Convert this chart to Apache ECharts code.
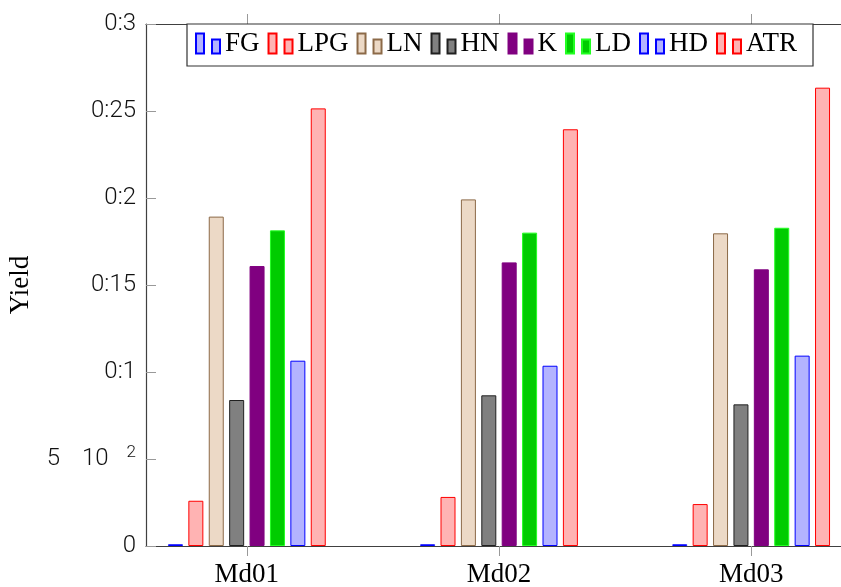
<!DOCTYPE html>
<html>
<head>
<meta charset="utf-8">
<script src="https://cdn.jsdelivr.net/npm/echarts@6/dist/echarts.min.js"></script>
<style>
  html, body { margin: 0; padding: 0; background: #fff; }
  #chart { width: 841px; height: 587px; }
</style>
</head>
<body>
<div id="chart"></div>
<script>
// categories and tick labels
var categories = ['Md01', 'Md02', 'Md03'];
var categoryPos = [0, 1, 2];
var yTicks = [0, 0.05, 0.1, 0.15, 0.2, 0.25, 0.3];
var yTickLabels = ['0', '{n|5}{sp|}{n|10}{sp2|}{s|2}', '0:1', '0:15', '0:2', '0:25', '0:3'];

// yields per product, one value per model
var FG = [0.001, 0.001, 0.001];
var LPG = [0.026, 0.0282, 0.0241];
var LN = [0.1893, 0.1992, 0.1797];
var HN = [0.0839, 0.0866, 0.0814];
var K = [0.1609, 0.163, 0.159];
var LD = [0.1814, 0.1801, 0.1829];
var HD = [0.1065, 0.1036, 0.1094];
var ATR = [0.2515, 0.2395, 0.2634];

var seriesDefs = [
    { name: 'FG', values: FG, fill: '#b3b3ff', line: '#0000ff' },
    { name: 'LPG', values: LPG, fill: '#ffb3b3', line: '#ff0000' },
    { name: 'LN', values: LN, fill: '#ecd9c6', line: '#8c6a48' },
    { name: 'HN', values: HN, fill: '#808080', line: '#202020' },
    { name: 'K', values: K, fill: '#800080', line: '#800080' },
    { name: 'LD', values: LD, fill: '#00cc00', line: '#22ff22' },
    { name: 'HD', values: HD, fill: '#b3b3ff', line: '#0000ff' },
    { name: 'ATR', values: ATR, fill: '#ffb3b3', line: '#ff0000' }
];

var axisColor = '#404040';
var tickColor = '#999';
var sansFont = 'Roboto';
var serifFont = 'Liberation Serif';

var chart = echarts.init(document.getElementById('chart'));

var xBase = {
    type: 'value',
    min: -0.4,
    max: 2.4,
    splitLine: { show: false },
    axisLine: { show: true, onZero: false, lineStyle: { color: axisColor, width: 1.2 } },
    axisTick: { show: true, customValues: categoryPos, length: 10, inside: false, lineStyle: { color: tickColor, width: 1 } }
};

var yBase = {
    type: 'value',
    min: 0,
    max: 0.3,
    interval: 0.05,
    splitLine: { show: false },
    axisLine: { show: true, onZero: false, lineStyle: { color: axisColor, width: 1.2 } },
    axisTick: { show: true, inside: true, length: 10, lineStyle: { color: tickColor, width: 1 } }
};

chart.setOption({
    animation: false,
    // plot runs past the right edge of the canvas, as in the original
    grid: { left: 146, width: 706, top: 24, bottom: 41, containLabel: false, outerBoundsMode: 'none' },
    legend: {
        left: 187,
        top: 24,
        padding: [6, 16, 9, 8],
        itemGap: 8,
        itemWidth: 24,
        itemHeight: 20,
        icon: 'path://M0,0H8V20H0Z M16,6H24V20H16Z',
        borderColor: '#333',
        borderWidth: 1.2,
        backgroundColor: '#fff',
        textStyle: { fontFamily: serifFont, fontSize: 27, color: '#000', padding: [16, 0, 0, 0] },
        data: seriesDefs.map(function (s) { return s.name; })
    },
    xAxis: [
        Object.assign({}, xBase, {
            position: 'bottom',
            axisLabel: {
                show: true,
                customValues: categoryPos,
                margin: 15,
                fontFamily: serifFont,
                fontSize: 27,
                color: '#000',
                formatter: function (v) { return categories[Math.round(v)]; }
            }
        }),
        Object.assign({}, xBase, {
            position: 'top',
            axisLabel: { show: false }
        })
    ],
    yAxis: [
        Object.assign({}, yBase, {
            position: 'left',
            name: 'Yield',
            nameLocation: 'middle',
            nameGap: 112,
            nameRotate: 90,
            nameTextStyle: { fontFamily: serifFont, fontSize: 27, color: '#000' },
            axisLabel: {
                margin: 10,
                fontFamily: sansFont,
                fontWeight: 300,
                fontSize: 24,
                color: '#111',
                formatter: function (v) {
                    var i = Math.round(v / 0.05);
                    return yTickLabels[i];
                },
                rich: {
                    n: { fontFamily: sansFont, fontWeight: 300, fontSize: 24, color: '#111' },
                    sp: { width: 22 },
                    sp2: { width: 18 },
                    s: { fontFamily: sansFont, fontWeight: 300, fontSize: 17, color: '#111', padding: [0, 0, 12, 0] }
                }
            }
        }),
        Object.assign({}, yBase, {
            position: 'right',
            axisLabel: { show: false }
        })
    ],
    series: seriesDefs.map(function (s) {
        return {
            name: s.name,
            type: 'bar',
            xAxisIndex: 0,
            yAxisIndex: 0,
            barWidth: 15,
            barGap: '36%',
            itemStyle: { color: s.fill, borderColor: s.line, borderWidth: 1 },
            data: categoryPos.map(function (x, i) { return [x, s.values[i]]; })
        };
    })
});
</script>
</body>
</html>
